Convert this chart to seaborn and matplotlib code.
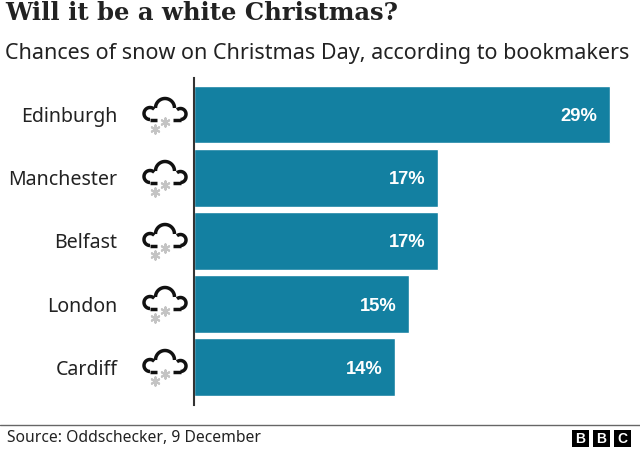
import numpy as np
import pandas as pd
import matplotlib
matplotlib.use("Agg")
import matplotlib.pyplot as plt
from matplotlib.patches import Rectangle
import seaborn as sns

cities = ["Edinburgh", "Manchester", "Belfast", "London", "Cardiff"]
chances = [29, 17, 17, 15, 14]

title = "Will it be a white Christmas?"
subtitle = "Chances of snow on Christmas Day, according to bookmakers"
source = "Source: Oddschecker, 9 December"

sns.set_style("white")
plt.rcParams["font.family"] = ["Noto Sans", "DejaVu Sans"]

df = pd.DataFrame({"city": cities, "chance": chances})

fig = plt.figure(figsize=(6.4, 4.5), dpi=100)
W, H = 640, 450

# axes placed so that the bars sit where they do in the original
ax = fig.add_axes([194 / W, 1 - 405 / H, (W - 194) / W, (405 - 78) / H])
sns.barplot(data=df, x="chance", y="city", color="#1380A1", saturation=1, width=0.905, ax=ax)
ax.set_xlim(0, (W - 194) / 14.33)
ax.set_ylim(4.603, -0.587)
ax.set_xlabel("")
ax.set_ylabel("")
ax.set_xticks([])
ax.set_yticks(range(len(cities)))
ax.set_yticklabels(cities, fontsize=14.1, color="#222222")
ax.tick_params(axis="y", length=0, pad=55)
sns.despine(ax=ax, top=True, right=True, bottom=True)
ax.spines["left"].set_color("#333333")
ax.spines["left"].set_linewidth(1.5)

for i, v in enumerate(chances):
    ax.text(v - 0.85, i, f"{v}%", color="white", fontsize=13.2, fontweight="bold",
            family="Liberation Sans", ha="right", va="center_baseline")

# overlay in pixel coordinates for the furniture
ov = fig.add_axes([0, 0, 1, 1], zorder=5)
ov.set_xlim(0, W)
ov.set_ylim(H, 0)
ov.axis("off")
ov.patch.set_alpha(0)


def arc(cx, cy, r, a0, a1):
    t = np.radians(np.linspace(a0, a1, 40))
    return cx + r * np.cos(t), cy - r * np.sin(t)


def snow_icon(yc):
    dy = yc - 115
    parts = [
        arc(150, 113.5 + dy, 6, 270, 45),
        arc(165, 108 + dy, 9.5, 180, 0),
        arc(180.5, 114 + dy, 5.5, 130, -90),
    ]
    for x, y in parts:
        ov.plot(x, y, color="#111111", lw=2.5, solid_capstyle="butt")
    ov.plot([150, 157], [119.5 + dy, 119.5 + dy], color="#111111", lw=2.5, solid_capstyle="butt")
    ov.plot([173, 180.5], [119.5 + dy, 119.5 + dy], color="#111111", lw=2.5, solid_capstyle="butt")
    ov.scatter([155, 165], [129 + dy, 121.5 + dy], marker=(6, 2, 0), s=36, color="#c4c4c4", linewidths=1.5)


for i in range(len(cities)):
    snow_icon(115 + 63 * i)

ov.text(5, 13, title, fontsize=17.5, fontweight="bold", family="DejaVu Serif",
        color="#222222", ha="left", va="center")
ov.text(5, 53, subtitle, fontsize=15.5, color="#222222", ha="left", va="center")

ov.plot([0, W], [425, 425], color="#666666", lw=1)
ov.text(7, 438, source, fontsize=11.3, color="#222222", ha="left", va="center")

for x0, letter in zip([572, 593, 614], "BBC"):
    ov.add_patch(Rectangle((x0, 430), 17, 17, facecolor="black", edgecolor="none"))
    ov.text(x0 + 8.5, 438.7, letter, color="white", fontsize=10, fontweight="bold",
            family="Liberation Sans", ha="center", va="center")

fig.savefig("out.png", dpi=100)
